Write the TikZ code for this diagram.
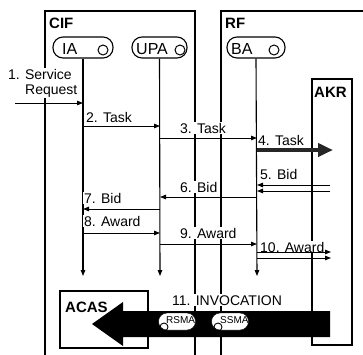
\documentclass[tikz,border=0pt]{standalone}
\usepackage{fontspec}
\setmainfont{Liberation Sans}
\usetikzlibrary{arrows.meta}
\begin{document}
\begin{tikzpicture}[x=1pt,y=-1pt,
  box/.style={line width=1.3pt},
  life/.style={line width=1.1pt,-{Triangle[length=6pt,width=4.5pt]}},
  msg/.style={line width=1pt,-{Triangle[length=6pt,width=4.5pt]}},
  lbl/.style={font=\fontsize{14}{15}\selectfont, inner sep=1pt, fill=white, anchor=base west},
  ttl/.style={font=\fontsize{15}{17}\selectfont\bfseries, inner sep=0pt, anchor=base west},
  agent/.style={draw, line width=1.1pt, rounded corners=10pt, minimum height=21pt, inner sep=0pt},
  atext/.style={font=\fontsize{16}{18}\selectfont, inner sep=0pt, anchor=base west},
  port/.style={draw, circle, line width=1pt, minimum size=10pt, inner sep=0pt},
  sub/.style={draw, fill=white, rounded corners=8.5pt, minimum height=17pt, minimum width=37pt, inner sep=0pt},
  subtext/.style={font=\fontsize{10}{11}\selectfont, inner sep=0pt, anchor=base west},
  subport/.style={draw, circle, line width=0.9pt, minimum size=8pt, inner sep=0pt}
]
\useasboundingbox (0,0) rectangle (363,354);
\fill[white] (0,0) rectangle (363,354);

% frames
\draw[box] (45,357) -- (45,11) -- (195,11) -- (195,357);
\draw[box] (221,357) -- (221,11) -- (370,11);
\draw[box] (312,79) rectangle (352,345);
\draw[box] (60,291) rectangle (148,348);
\node[ttl] (cif) at (49,28) {CIF};
\node[ttl] (rf) at (225,28) {RF};
\node[ttl] (akr) at (314,97) {AKR};

% agents
\node[agent, minimum width=60pt] (IA) at (83,47.5) {};
\node[atext] (iat) at (62,54) {IA};
\node[port] (iap) at (103,50) {};
\node[agent, minimum width=55pt] (UPA) at (159.5,47.5) {};
\node[atext] (upat) at (136,54) {UPA};
\node[port] (upap) at (180,50) {};
\node[agent, minimum width=58pt] (BA) at (256,47.5) {};
\node[atext] (bat) at (231,54) {BA};
\node[port] (bap) at (274,50) {};

% lifeline ends
\coordinate (IAend) at (83,276);
\coordinate (UPAend) at (160,276);
\coordinate (BAend) at (257,276);
\draw[life] (IA.south) -- (IAend);
\draw[life] (UPA.south) -- (UPAend);
\draw[life] (BA.south) -- (BAend);

% labels
\node[lbl, align=left, anchor=north west] (l1) at (7,68) {1. Service\\\hspace*{17pt}Request};
\node[lbl] (l2) at (85,122) {2. Task};
\node[lbl] (l3) at (179,133) {3. Task};
\node[lbl] (l4) at (257,145) {4. Task};
\node[lbl] (l5) at (259,179) {5. Bid};
\node[lbl] (l6) at (179,192) {6. Bid};
\node[lbl] (l7) at (83,203) {7. Bid};
\node[lbl] (l8) at (83,226) {8. Award};
\node[lbl] (l9) at (179,238) {9. Award};
\node[lbl] (l10) at (259,252) {10. Award};
\node[lbl] (l11) at (171,305) {11. INVOCATION};

% message points
\coordinate (src) at (15,103);
\coordinate (ia1) at (83,103);
\coordinate (ia2) at (83,126);   \coordinate (upa2) at (160,126);
\coordinate (upa3) at (160,138); \coordinate (ba3) at (257,138);
\coordinate (ba4) at (257,150);  \coordinate (akr4) at (333,150);
\coordinate (akr5a) at (330,185); \coordinate (ba5a) at (257,185);
\coordinate (akr5b) at (330,191); \coordinate (ba5b) at (257,191);
\coordinate (ba6) at (257,197);  \coordinate (upa6) at (160,197);
\coordinate (upa7) at (160,209); \coordinate (ia7) at (83,209);
\coordinate (ia8) at (83,233);   \coordinate (upa8) at (160,233);
\coordinate (upa9) at (160,244); \coordinate (ba9) at (257,244);
\coordinate (ba10a) at (257,252); \coordinate (akr10a) at (331,252);
\coordinate (ba10b) at (257,258); \coordinate (akr10b) at (331,258);

\draw[msg] (src) -- (ia1);
\draw[msg] (ia2) -- (upa2);
\draw[msg] (upa3) -- (ba3);
\draw[line width=4.5pt, black!85, -{Triangle[length=15pt,width=13pt]}] (ba4) -- (akr4);
\draw[msg] (akr5a) -- (ba5a);
\draw[msg] (akr5b) -- (ba5b);
\draw[msg] (ba6) -- (upa6);
\draw[msg] (upa7) -- (ia7);
\draw[msg] (ia8) -- (upa8);
\draw[msg] (upa9) -- (ba9);
\draw[msg] (ba10a) -- (akr10a);
\draw[msg] (ba10b) -- (akr10b);

% invocation arrow
\fill[black] (330,311) -- (123,311) -- (123,302) -- (92,324) -- (123,346) -- (123,337) -- (330,337) -- cycle;
\node[ttl] (acas) at (65,312) {ACAS};

\node[sub] (rsma) at (177,321.5) {};
\node[subport] (rsmap) at (164,327) {};
\node[subtext] (rsmat) at (166,323.5) {RSMA};
\node[sub] (ssma) at (230,321.5) {};
\node[subport] (ssmap) at (218,327) {};
\node[subtext] (ssmat) at (220,323.5) {SSMA};
\end{tikzpicture}
\end{document}
